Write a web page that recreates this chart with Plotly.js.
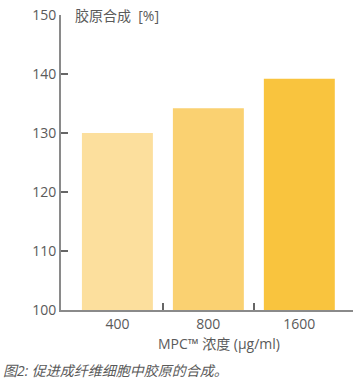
<!DOCTYPE html>
<html>
<head>
<meta charset="utf-8">
<script src="https://cdn.plot.ly/plotly-3.0.1.min.js"></script>
<style>html,body{margin:0;padding:0;background:#fff;}#chart{width:359px;height:390px;}</style>
</head>
<body>
<div id="chart"></div>
<script>
const categories = ["400", "800", "1600"];
const values = [130.0, 134.2, 139.2];
const barColors = ["#FCDF9D", "#FAD171", "#F9C43E"];
const yTicks = [100, 110, 120, 130, 140, 150];
const dividerTicks = [0.5, 1.5];
const yTitle = "胶原合成&nbsp;&nbsp;[%]";
const xTitle = "MPC™ 浓度 (µg/ml)";
const caption = "图2: 促进成纤维细胞中胶原的合成。";

const FONT = "'Open Sans', 'Noto Sans CJK SC', sans-serif";
const GRAY = "#5a5a5a";
const AXIS = "#8a8a8a";
const TICK = "#666666";
const xRange = [-0.62, 2.59];

const data = [
  {type: "bar", x: categories, y: values, marker: {color: barColors, line: {width: 0}}, width: 0.78, hoverinfo: "none"},
  {type: "scatter", x: dividerTicks, y: [100, 100], xaxis: "x2", yaxis: "y", mode: "markers", marker: {opacity: 0}, hoverinfo: "none", showlegend: false}
];

const layout = {
  width: 359, height: 390,
  margin: {l: 61, r: 6, t: 15, b: 80},
  paper_bgcolor: "#fff", plot_bgcolor: "#fff",
  showlegend: false,
  font: {family: FONT, size: 14, color: GRAY},
  xaxis: {
    type: "category", range: xRange, showgrid: false, zeroline: false,
    showline: true, linecolor: AXIS, linewidth: 2, ticks: "",
    tickfont: {family: FONT, size: 14, color: GRAY}, fixedrange: true
  },
  xaxis2: {
    overlaying: "x", anchor: "y", type: "linear", range: xRange, side: "bottom",
    tickmode: "array", tickvals: dividerTicks, ticks: "inside", ticklen: 7, tickwidth: 1.5, tickcolor: TICK,
    showticklabels: false, showgrid: false, zeroline: false, showline: false
  },
  yaxis: {
    range: [100, 150.02], tickmode: "array", tickvals: yTicks,
    ticks: "inside", ticklen: 7, tickwidth: 1.5, tickcolor: TICK,
    showline: true, linecolor: AXIS, linewidth: 2, showgrid: false, zeroline: false,
    tickfont: {family: FONT, size: 14, color: GRAY}, fixedrange: true
  },
  annotations: [
    {text: yTitle, xref: "paper", yref: "paper", x: 0.04, y: 1, xanchor: "left", yanchor: "middle", showarrow: false, font: {family: FONT, size: 14, color: GRAY}},
    {text: xTitle, xref: "paper", yref: "paper", x: 0.54, y: -0.115, xanchor: "center", yanchor: "middle", showarrow: false, font: {family: FONT, size: 14, color: GRAY}},
    {text: "<i>" + caption + "</i>", xref: "paper", yref: "paper", x: -0.205, y: -0.205, xanchor: "left", yanchor: "middle", showarrow: false, font: {family: FONT, size: 14, color: GRAY}}
  ]
};

Plotly.newPlot("chart", data, layout, {displayModeBar: false, staticPlot: true});
</script>
</body>
</html>
